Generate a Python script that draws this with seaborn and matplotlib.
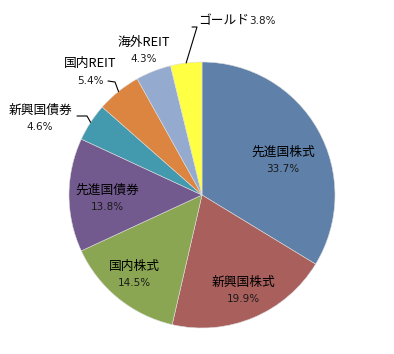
import numpy as np
import matplotlib
matplotlib.use("Agg")
import matplotlib.pyplot as plt
import seaborn as sns

# asset allocation
names = ["先進国株式", "新興国株式", "国内株式", "先進国債券",
         "新興国債券", "国内REIT", "海外REIT", "ゴールド"]
shares = [33.7, 19.9, 14.5, 13.8, 4.6, 5.4, 4.3, 3.8]
colors = ["#5E80A9", "#A9605D", "#8AA652", "#725A8E",
          "#4399AE", "#DB8540", "#94AACF", "#FFFF44"]

sns.set_style("white")
plt.rcParams["font.family"] = ["Noto Sans CJK JP", "DejaVu Sans"]
PCT_FONT = ["DejaVu Sans"]

W, H = 394, 354
CX, CY, R = 202, 195, 133


def to_data(px, py):
    return (px - CX) / R, (CY - py) / R


fig = plt.figure(figsize=(W / 100, H / 100), dpi=100)
ax = fig.add_axes([(CX - R) / W, 1 - (CY + R) / H, 2 * R / W, 2 * R / H])
wedges, _ = ax.pie(shares, colors=colors, startangle=90, counterclock=False,
                   radius=1, wedgeprops=dict(linewidth=0.4, edgecolor="#dddddd"))
ax.set_xlim(-1, 1)
ax.set_ylim(-1, 1)
ax.set_aspect("auto")
ax.axis("off")

# label centres in pixels (layout), by slice
label_px = {
    "先進国株式": (283, 161), "新興国株式": (243, 291), "国内株式": (134, 275),
    "先進国債券": (107, 199), "新興国債券": (40, 119), "国内REIT": (90, 72),
    "海外REIT": (144, 51),
}
leaders = {
    "新興国債券": [(77, 116), (87, 116)],
    "国内REIT": [(108, 81), (115, 82)],
    "ゴールド": [(192, 27), (197, 27)],
}

for w, name, val in zip(wedges, names, shares):
    mid = np.deg2rad((w.theta1 + w.theta2) / 2)
    pct = f"{val:.1f}%"
    if name in label_px:
        x, y = to_data(*label_px[name])
        ax.text(x, y + 8.5 / R, name, ha="center", va="center", fontsize=9.2,
                color="black")
        ax.text(x, y - 8.5 / R, pct, ha="center", va="center", fontsize=7.5,
                color="#1a1a1a", family=PCT_FONT)
    else:
        x, y = to_data(198, 21)
        ax.text(x, y, name, ha="left", va="center", fontsize=9.2, color="black")
        x2, _ = to_data(249, 21)
        ax.text(x2, y, pct, ha="left", va="center", fontsize=7.5,
                color="#1a1a1a", family=PCT_FONT)
    if name in leaders:
        pts = [to_data(*p) for p in leaders[name]]
        pts.append((np.cos(mid), np.sin(mid)))
        xs, ys = zip(*pts)
        ax.plot(xs, ys, color="black", lw=0.8, clip_on=False)

fig.savefig("out.png", dpi=100, facecolor="white")
